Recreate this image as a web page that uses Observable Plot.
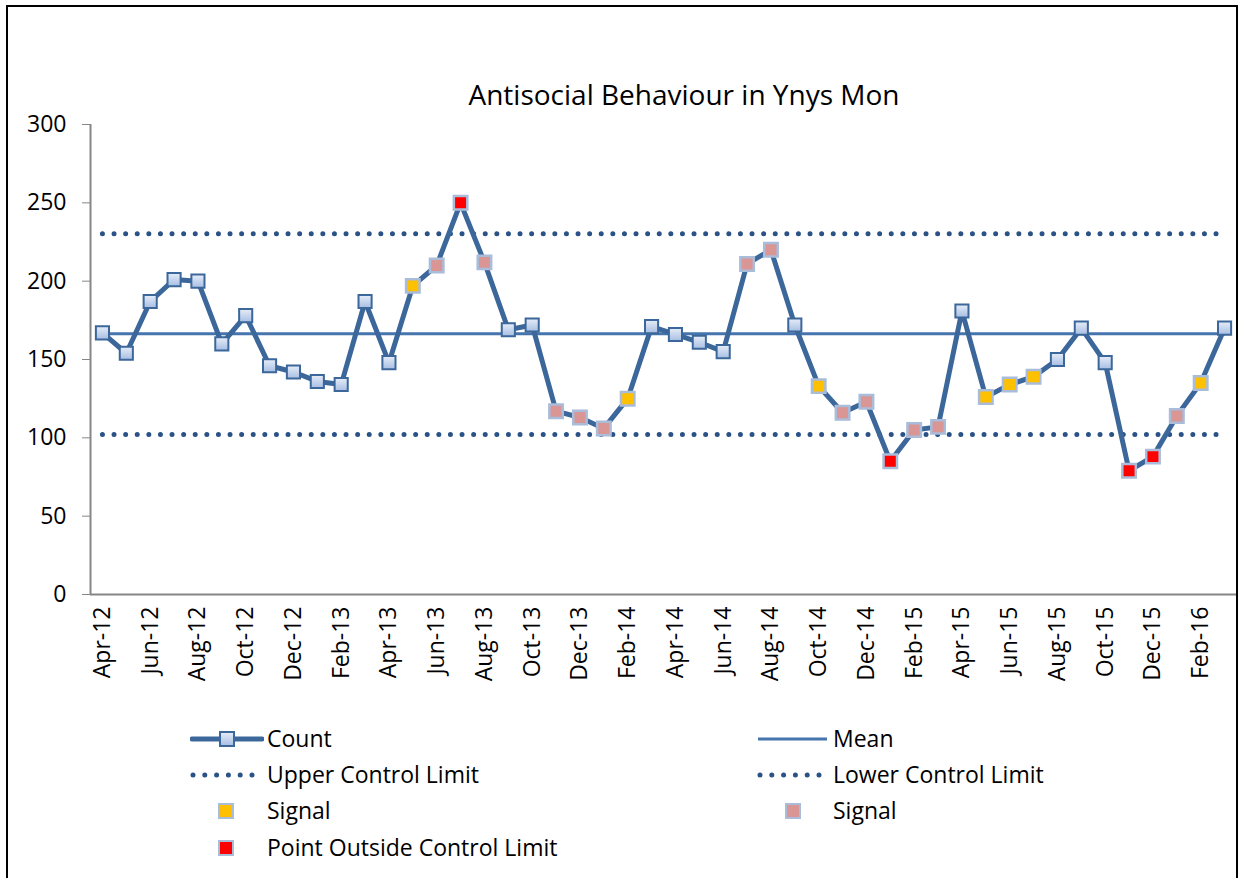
<!DOCTYPE html>
<html>
<head>
<meta charset="utf-8">
<script src="https://cdn.jsdelivr.net/npm/d3@7"></script>
<script src="https://cdn.jsdelivr.net/npm/@observablehq/plot@0.6"></script>
<style>
  html, body { margin: 0; padding: 0; background: #fff; width: 1239px; height: 878px; overflow: hidden; }
  body { font-family: "Open Sans", sans-serif; position: relative; }
  #frame { position: absolute; left: 6px; top: 5px; width: 1228px; height: 900px; border: 2px solid #000; }
  #chart { position: absolute; left: 0; top: 0; }
  #title { position: absolute; left: 0; width: 1368px; top: 80px; text-align: center; font-size: 28px; line-height: 1; color: #000; }
  .leg { position: absolute; font-size: 23px; line-height: 1; color: #000; white-space: nowrap; }
  .legsym { position: absolute; }
</style>
</head>
<body>
<div id="frame"></div>
<div id="chart"></div>
<div id="title">Antisocial Behaviour in Ynys Mon</div>
<div id="legend"></div>
<script>
const months = ["Apr-12","May-12","Jun-12","Jul-12","Aug-12","Sep-12","Oct-12","Nov-12","Dec-12","Jan-13","Feb-13","Mar-13",
  "Apr-13","May-13","Jun-13","Jul-13","Aug-13","Sep-13","Oct-13","Nov-13","Dec-13","Jan-14","Feb-14","Mar-14",
  "Apr-14","May-14","Jun-14","Jul-14","Aug-14","Sep-14","Oct-14","Nov-14","Dec-14","Jan-15","Feb-15","Mar-15",
  "Apr-15","May-15","Jun-15","Jul-15","Aug-15","Sep-15","Oct-15","Nov-15","Dec-15","Jan-16","Feb-16","Mar-16"];
const counts = [167,154,187,201,200,160,178,146,142,136,134,187,
  148,197,210,250,212,169,172,117,113,106,125,171,
  166,161,155,211,220,172,133,116,123,85,105,107,
  181,126,134,139,150,170,148,79,88,114,135,170];
// n = normal, y = Signal (yellow), p = Signal (pink), r = Point Outside Control Limit
const status = ["n","n","n","n","n","n","n","n","n","n","n","n",
  "n","y","p","r","p","n","n","p","p","p","y","n",
  "n","n","n","p","p","n","y","p","p","r","p","p",
  "n","y","y","y","n","n","n","r","r","p","y","n"];
const meanValue = 166.4;
const uclValue = 230.3;
const lclValue = 102.1;
const yTicks = [0,50,100,150,200,250,300];
const xTickIdx = [0,2,4,6,8,10,12,14,16,18,20,22,24,26,28,30,32,34,36,38,40,42,44,46];

const data = months.map((m, i) => ({i, m, v: counts[i], s: status[i]}));
const ends = [0, months.length - 1];

const signalFill = {y: "#FFC000", p: "#D99694", r: "#FF0000"};

const plot = Plot.plot({
  width: 1239,
  height: 700,
  marginLeft: 90,
  marginRight: 3,
  marginTop: 124,
  marginBottom: 106,
  style: {fontFamily: "Open Sans, sans-serif", fontSize: "23px", color: "#000", background: "transparent", overflow: "visible"},
  x: {type: "linear", domain: [-0.5, months.length - 0.5]},
  y: {domain: [0, 300]},
  marks: [
    Plot.axisY({ticks: yTicks, tickSize: 8, tickPadding: 16, stroke: "#868686", fill: "#000", fontSize: 23, label: null}),
    Plot.axisX({ticks: xTickIdx, tickSize: 0, tickPadding: 12, tickRotate: -90, tickFormat: i => months[i], fontSize: 23, fill: "#000", label: null}),
    Plot.ruleX([-0.5], {y1: 0, y2: 300, stroke: "#868686", strokeWidth: 2}),
    Plot.ruleY([0], {stroke: "#868686", strokeWidth: 2}),
    Plot.line(ends, {x: d => d, y: () => uclValue, stroke: "#2A5286", strokeWidth: 5, strokeDasharray: "0 11.6", strokeLinecap: "round"}),
    Plot.line(ends, {x: d => d, y: () => lclValue, stroke: "#2A5286", strokeWidth: 5, strokeDasharray: "0 11.6", strokeLinecap: "round"}),
    Plot.line(ends, {x: d => d, y: () => meanValue, stroke: "#4675AE", strokeWidth: 3}),
    Plot.line(data, {x: "i", y: "v", stroke: "#3C679A", strokeWidth: 5, strokeLinejoin: "round"}),
    Plot.dot(data.filter(d => d.s === "n"), {x: "i", y: "v", symbol: "square", r: 7.4, fill: "url(#mkgrad)", stroke: "#3C679A", strokeWidth: 2}),
    Plot.dot(data.filter(d => d.s !== "n"), {x: "i", y: "v", symbol: "square", r: 7.6, fill: d => signalFill[d.s], stroke: "#A9BCDA", strokeWidth: 2.5})
  ]
});
plot.insertAdjacentHTML("afterbegin", `<defs><linearGradient id="mkgrad" x1="0" y1="0" x2="0" y2="1">
  <stop offset="0" stop-color="#E6EDF8"/><stop offset="1" stop-color="#A7BEE3"/></linearGradient></defs>`);
document.getElementById("chart").appendChild(plot);

// Legend
const leg = document.getElementById("legend");
const items = [
  {x: 190, y: 739, type: "count", label: "Count"},
  {x: 757, y: 739, type: "mean", label: "Mean", tx: 833},
  {x: 190, y: 775, type: "dots", label: "Upper Control Limit"},
  {x: 757, y: 775, type: "dots", label: "Lower Control Limit", tx: 833},
  {x: 190, y: 811, type: "sq", c: "#FFC000", label: "Signal"},
  {x: 757, y: 811, type: "sq", c: "#D99694", label: "Signal", tx: 833},
  {x: 190, y: 848, type: "sq", c: "#FF0000", label: "Point Outside Control Limit"}
];
for (const it of items) {
  let sym = "";
  const w = 74;
  if (it.type === "count") {
    sym = `<line x1="2" y1="12" x2="72" y2="12" stroke="#3C679A" stroke-width="5" stroke-linecap="round"/>
      <rect x="30" y="5" width="14" height="14" fill="url(#mkgrad2)" stroke="#3C679A" stroke-width="2"/>`;
  } else if (it.type === "mean") {
    sym = `<line x1="1" y1="12" x2="70" y2="12" stroke="#4675AE" stroke-width="3"/>`;
  } else if (it.type === "dots") {
    sym = `<line x1="3" y1="12" x2="66" y2="12" stroke="#2A5286" stroke-width="5" stroke-dasharray="0 11.8" stroke-linecap="round"/>`;
  } else {
    sym = `<rect x="29" y="5" width="14" height="14" fill="${it.c}" stroke="#A9BCDA" stroke-width="2"/>`;
  }
  const d = document.createElement("div");
  d.innerHTML = `<svg class="legsym" style="left:${it.x}px;top:${it.y - 12}px" width="${w}" height="24">
    <defs><linearGradient id="mkgrad2" x1="0" y1="0" x2="0" y2="1"><stop offset="0" stop-color="#E6EDF8"/><stop offset="1" stop-color="#A7BEE3"/></linearGradient></defs>${sym}</svg>
    <div class="leg" style="left:${it.tx || 267}px;top:${it.y + 8 - 20}px">${it.label}</div>`;
  leg.appendChild(d);
}
</script>
</body>
</html>
